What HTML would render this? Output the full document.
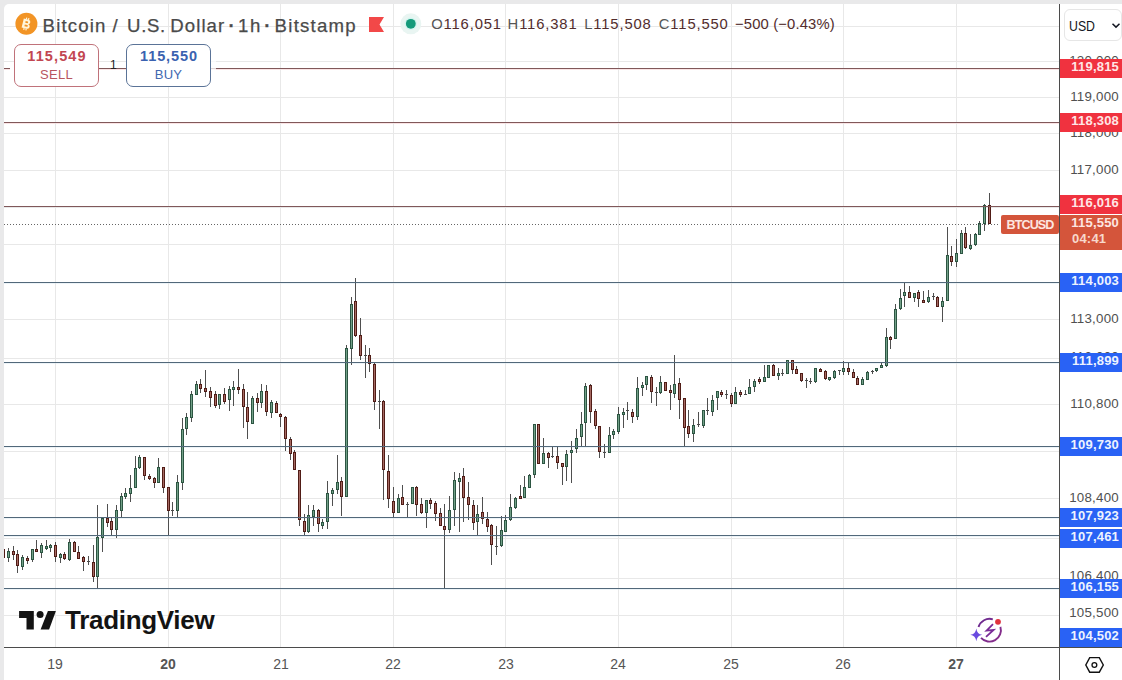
<!DOCTYPE html>
<html><head><meta charset="utf-8">
<style>
html,body{margin:0;padding:0;}
body{width:1122px;height:680px;overflow:hidden;background:#e9e9ea;position:relative;font-family:"Liberation Sans",sans-serif;}
#frame{position:absolute;left:4px;top:4px;width:1118px;height:676px;background:#fff;border-top-left-radius:5px;overflow:hidden;}
svg{position:absolute;left:0;top:0;}
.t{position:absolute;white-space:nowrap;}
.title{top:13.5px;font-size:18.6px;color:#4a4a4a;line-height:24px;-webkit-text-stroke:0.25px #4a4a4a;}
.ohlc{top:14.3px;font-size:14.8px;line-height:20px;color:#522c2c;letter-spacing:0.85px;}
.ohlc b{font-weight:normal;color:#555;}
.pl{position:absolute;left:1060px;width:62px;height:19px;color:#fff;font-weight:bold;font-size:13px;line-height:16.6px;text-align:right;box-sizing:border-box;padding-right:3px;letter-spacing:0.2px;}
.red{background:#f0323f;color:#ffe6e6;}
.blue{background:#2962f5;color:#eef3ff;}
.ax{position:absolute;left:1060px;width:59px;text-align:right;font-size:13.3px;color:#505050;line-height:16px;letter-spacing:0.25px;}
.wk{stroke:#4f4f4f;stroke-width:1;fill:none}
.cg{fill:#72a088;stroke:#2c5542;stroke-width:1}
.cr{fill:#a66a63;stroke:#501c16;stroke-width:1}
.cd{fill:#555;stroke:#444;stroke-width:1}
.cgs{fill:#3a6450}
.crs{fill:#6a2a22}
.cds{fill:#4a4a4a}
.lc{display:inline-block;transform:scaleY(1.12);transform-origin:0 24px;}
.day{position:absolute;top:655.5px;font-size:14px;color:#555;width:40px;margin-left:-20px;text-align:center;line-height:16px;}
</style></head><body>
<div id="frame"></div>
<svg width="1122" height="680" viewBox="0 0 1122 680" shape-rendering="crispEdges">
 <g id="grid" stroke="#e8e8e8" stroke-width="1">
  <path stroke="#fbe4e5" d="M4 69.5H1059M4 123.5H1059M4 207.5H1059"/>
  <path stroke="#edf4f8" d="M4 283.5H1059M4 363.5H1059M4 447.5H1059M4 518.5H1059M4 536.5H1059M4 589.5H1059"/>
  <path d="M55.5 4V647M168.5 4V647M280.5 4V647M393.5 4V647M505.5 4V647M618.5 4V647M731.5 4V647M843.5 4V647M956.5 4V647"/>
  <path d="M4 26.5H1059M4 61.5H1059M4 97.5H1059M4 133.5H1059M4 170.5H1059M4 207.5H1059M4 244.5H1059M4 282.5H1059M4 319.5H1059M4 358.5H1059M4 404.5H1059M4 451.5H1059M4 498.5H1059M4 538.5H1059M4 578.5H1059M4 615.5H1059"/>
 </g>
 <defs><clipPath id="clipc"><rect x="4" y="4" width="1055" height="643"/></clipPath></defs>
<g id="candles" clip-path="url(#clipc)" shape-rendering="crispEdges">
<path class="wk" d="M3.5 549V558M8.5 548V562M13.5 546V560M17.5 550V573M22.5 555V570M27.5 556V564M32.5 549V562M36.5 540V552M41.5 543V558M46.5 540V550M50.5 544V552M55.5 542V562M60.5 553V563M64.5 552V560M69.5 539V561M74.5 541V552M78.5 546V559M83.5 556V571M88.5 556V565M93.5 545V582M97.5 505V588M102.5 518V552M107.5 504V527M111.5 518V535M116.5 505V538M121.5 493V517M125.5 488V499M130.5 475V502M135.5 456V488M139.5 455V469M144.5 457V480M149.5 474V480M154.5 477V488M158.5 458V483M163.5 467V493M168.5 487V535M172.5 502V516M177.5 475V517M182.5 418V490M186.5 413V435M191.5 391V422M196.5 381V395M200.5 379V393M205.5 370V397M210.5 387V407M215.5 391V408M219.5 394V409M224.5 388V404M229.5 386V411M233.5 381V406M238.5 369V394M243.5 384V428M247.5 392V439M252.5 396V424M257.5 393V412M261.5 384V408M266.5 385V416M271.5 400V418M276.5 401V413M280.5 413V427M285.5 416V451M290.5 437V460M294.5 450V470M299.5 470V526M304.5 514V535M308.5 505V533M313.5 505V526M318.5 509V532M322.5 519V529M327.5 481V529M332.5 488V506M337.5 455V494M341.5 477V516M346.5 345V497M351.5 297V365M355.5 278V337M360.5 318V360M365.5 345V378M369.5 348V372M374.5 363V410M379.5 390V429M383.5 400V500M388.5 455V508M393.5 487V517M398.5 494V513M402.5 485V505M407.5 502V517M412.5 487V504M416.5 486V516M421.5 498V514M426.5 500V528M430.5 498V509M435.5 501V521M440.5 508V526M444.5 504V589M449.5 496V533M454.5 472V526M459.5 473V532M463.5 468V522M468.5 482V520M473.5 500V530M477.5 505V535M482.5 497V524M487.5 512V532M491.5 524V565M496.5 526V555M501.5 516V547M505.5 515V532M510.5 494V521M515.5 497V509M520.5 485V499M524.5 476V498M529.5 474V488M534.5 424V478M538.5 424V464M543.5 438V464M548.5 452V468M552.5 446V458M557.5 446V469M562.5 463V485M566.5 450V481M571.5 441V483M576.5 429V453M581.5 412V447M585.5 383V446M590.5 384V423M595.5 409V429M599.5 426V458M604.5 444V458M609.5 427V453M613.5 429V439M618.5 407V434M623.5 408V428M627.5 402V420M632.5 409V423M637.5 377V420M642.5 382V396M646.5 376V390M651.5 375V403M656.5 387V406M660.5 376V394M665.5 382V391M670.5 385V410M674.5 355V398M679.5 378V419M684.5 398V446M688.5 410V438M693.5 419V442M698.5 412V427M703.5 410V428M707.5 398V415M712.5 395V416M717.5 391V410M721.5 390V397M726.5 390V399M731.5 393V407M735.5 387V404M740.5 390V397M745.5 390V395M749.5 379V394M754.5 379V392M759.5 377V384M764.5 365V382M768.5 365V378M773.5 364V376M778.5 368V380M782.5 369V376M787.5 360V374M792.5 360V374M796.5 366V374M801.5 373V382M806.5 378V388M810.5 378V384M815.5 368V383M820.5 368V372M825.5 370V380M829.5 377V381M834.5 370V379M839.5 370V375M843.5 361V375M848.5 362V375M853.5 369V378M857.5 376V385M862.5 377V385M867.5 371V380M872.5 370V374M876.5 368V372M881.5 363V368M886.5 328V367M890.5 336V349M895.5 304V339M900.5 289V310M904.5 282V307M909.5 286V298M914.5 293V302M918.5 290V307M923.5 291V303M928.5 290V303M933.5 293V300M937.5 296V307M942.5 297V322M947.5 227V301M951.5 246V266M956.5 239V267M961.5 230V254M965.5 227V249M970.5 234V250M975.5 233V246M979.5 221V235M984.5 204V231M989.5 193V224"/>
<rect class="cr" x="2.5" y="549.5" width="2" height="8"/>
<rect class="cg" x="7.5" y="551.5" width="2" height="6"/>
<rect class="cr" x="12.5" y="551.5" width="2" height="3"/>
<rect class="cr" x="16.5" y="554.5" width="2" height="11"/>
<rect class="cg" x="21.5" y="557.5" width="2" height="9"/>
<rect class="cr" x="26.5" y="558.5" width="2" height="2"/>
<rect class="cg" x="31.5" y="549.5" width="2" height="10"/>
<rect class="cr" x="35.5" y="549.5" width="2" height="2"/>
<rect class="cg" x="40.5" y="545.5" width="2" height="7"/>
<rect class="cg" x="45.5" y="546.5" width="2" height="2"/>
<rect class="cg" x="49.5" y="545.5" width="2" height="2"/>
<rect class="cr" x="54.5" y="545.5" width="2" height="11"/>
<rect class="cg" x="59.5" y="554.5" width="2" height="3"/>
<rect class="cr" x="63.5" y="554.5" width="2" height="4"/>
<rect class="cg" x="68.5" y="542.5" width="2" height="17"/>
<rect class="cr" x="73.5" y="542.5" width="2" height="9"/>
<rect class="cr" x="77.5" y="552.5" width="2" height="6"/>
<rect class="cr" x="82.5" y="557.5" width="2" height="4"/>
<rect class="cds" x="87" y="561" width="3" height="1"/>
<rect class="cr" x="92.5" y="562.5" width="2" height="14"/>
<rect class="cg" x="96.5" y="537.5" width="2" height="39"/>
<rect class="cg" x="101.5" y="518.5" width="2" height="19"/>
<rect class="cr" x="106.5" y="518.5" width="2" height="4"/>
<rect class="cr" x="110.5" y="521.5" width="2" height="8"/>
<rect class="cg" x="115.5" y="510.5" width="2" height="19"/>
<rect class="cg" x="120.5" y="496.5" width="2" height="14"/>
<rect class="cg" x="124.5" y="493.5" width="2" height="3"/>
<rect class="cg" x="129.5" y="488.5" width="2" height="5"/>
<rect class="cg" x="134.5" y="468.5" width="2" height="19"/>
<rect class="cg" x="138.5" y="457.5" width="2" height="10"/>
<rect class="cr" x="143.5" y="457.5" width="2" height="18"/>
<rect class="cr" x="148.5" y="476.5" width="2" height="2"/>
<rect class="cr" x="153.5" y="478.5" width="2" height="4"/>
<rect class="cg" x="157.5" y="467.5" width="2" height="15"/>
<rect class="cr" x="162.5" y="467.5" width="2" height="20"/>
<rect class="cr" x="167.5" y="487.5" width="2" height="23"/>
<rect class="cds" x="171" y="510" width="3" height="1"/>
<rect class="cg" x="176.5" y="482.5" width="2" height="28"/>
<rect class="cg" x="181.5" y="429.5" width="2" height="53"/>
<rect class="cg" x="185.5" y="417.5" width="2" height="11"/>
<rect class="cg" x="190.5" y="394.5" width="2" height="23"/>
<rect class="cg" x="195.5" y="384.5" width="2" height="10"/>
<rect class="cr" x="199.5" y="384.5" width="2" height="4"/>
<rect class="cr" x="204.5" y="388.5" width="2" height="3"/>
<rect class="cr" x="209.5" y="391.5" width="2" height="6"/>
<rect class="cr" x="214.5" y="394.5" width="2" height="11"/>
<rect class="cg" x="218.5" y="394.5" width="2" height="10"/>
<rect class="cr" x="223.5" y="394.5" width="2" height="7"/>
<rect class="cg" x="228.5" y="389.5" width="2" height="10"/>
<rect class="cg" x="232.5" y="387.5" width="2" height="2"/>
<rect class="cr" x="237.5" y="387.5" width="2" height="2"/>
<rect class="cr" x="242.5" y="389.5" width="2" height="17"/>
<rect class="cr" x="246.5" y="407.5" width="2" height="14"/>
<rect class="cg" x="251.5" y="398.5" width="2" height="25"/>
<rect class="cr" x="256.5" y="398.5" width="2" height="4"/>
<rect class="cg" x="260.5" y="391.5" width="2" height="11"/>
<rect class="cr" x="265.5" y="391.5" width="2" height="20"/>
<rect class="cg" x="270.5" y="402.5" width="2" height="10"/>
<rect class="cr" x="275.5" y="403.5" width="2" height="9"/>
<rect class="cr" x="279.5" y="414.5" width="2" height="2"/>
<rect class="cr" x="284.5" y="417.5" width="2" height="21"/>
<rect class="cr" x="289.5" y="439.5" width="2" height="14"/>
<rect class="cr" x="293.5" y="452.5" width="2" height="17"/>
<rect class="cr" x="298.5" y="470.5" width="2" height="49"/>
<rect class="cr" x="303.5" y="521.5" width="2" height="10"/>
<rect class="cg" x="307.5" y="515.5" width="2" height="16"/>
<rect class="cg" x="312.5" y="510.5" width="2" height="6"/>
<rect class="cr" x="317.5" y="510.5" width="2" height="13"/>
<rect class="cg" x="321.5" y="522.5" width="2" height="3"/>
<rect class="cg" x="326.5" y="493.5" width="2" height="28"/>
<rect class="cg" x="331.5" y="490.5" width="2" height="3"/>
<rect class="cg" x="336.5" y="482.5" width="2" height="7"/>
<rect class="cr" x="340.5" y="481.5" width="2" height="15"/>
<rect class="cg" x="345.5" y="348.5" width="2" height="148"/>
<rect class="cg" x="350.5" y="304.5" width="2" height="44"/>
<rect class="cr" x="354.5" y="301.5" width="2" height="34"/>
<rect class="cr" x="359.5" y="335.5" width="2" height="20"/>
<rect class="cds" x="364" y="355" width="3" height="1"/>
<rect class="cr" x="368.5" y="355.5" width="2" height="8"/>
<rect class="cr" x="373.5" y="364.5" width="2" height="37"/>
<rect class="cds" x="378" y="401" width="3" height="1"/>
<rect class="cr" x="382.5" y="401.5" width="2" height="68"/>
<rect class="cr" x="387.5" y="471.5" width="2" height="27"/>
<rect class="cr" x="392.5" y="501.5" width="2" height="11"/>
<rect class="cg" x="397.5" y="498.5" width="2" height="14"/>
<rect class="cr" x="401.5" y="497.5" width="2" height="7"/>
<rect class="cds" x="406" y="504" width="3" height="1"/>
<rect class="cg" x="411.5" y="487.5" width="2" height="16"/>
<rect class="cr" x="415.5" y="487.5" width="2" height="17"/>
<rect class="cr" x="420.5" y="504.5" width="2" height="8"/>
<rect class="cg" x="425.5" y="500.5" width="2" height="12"/>
<rect class="cr" x="429.5" y="500.5" width="2" height="3"/>
<rect class="cr" x="434.5" y="503.5" width="2" height="10"/>
<rect class="cr" x="439.5" y="513.5" width="2" height="12"/>
<rect class="cr" x="443.5" y="526.5" width="2" height="3"/>
<rect class="cg" x="448.5" y="510.5" width="2" height="19"/>
<rect class="cg" x="453.5" y="480.5" width="2" height="29"/>
<rect class="cg" x="458.5" y="478.5" width="2" height="3"/>
<rect class="cr" x="462.5" y="476.5" width="2" height="21"/>
<rect class="cr" x="467.5" y="497.5" width="2" height="7"/>
<rect class="cr" x="472.5" y="505.5" width="2" height="17"/>
<rect class="cg" x="476.5" y="514.5" width="2" height="7"/>
<rect class="cr" x="481.5" y="512.5" width="2" height="6"/>
<rect class="cr" x="486.5" y="519.5" width="2" height="7"/>
<rect class="cr" x="490.5" y="525.5" width="2" height="19"/>
<rect class="cds" x="495" y="546" width="3" height="1"/>
<rect class="cg" x="500.5" y="530.5" width="2" height="15"/>
<rect class="cg" x="504.5" y="520.5" width="2" height="11"/>
<rect class="cg" x="509.5" y="507.5" width="2" height="12"/>
<rect class="cg" x="514.5" y="498.5" width="2" height="9"/>
<rect class="cr" x="519.5" y="496.5" width="2" height="2"/>
<rect class="cg" x="523.5" y="487.5" width="2" height="10"/>
<rect class="cg" x="528.5" y="475.5" width="2" height="12"/>
<rect class="cg" x="533.5" y="424.5" width="2" height="50"/>
<rect class="cr" x="537.5" y="424.5" width="2" height="39"/>
<rect class="cg" x="542.5" y="453.5" width="2" height="10"/>
<rect class="cr" x="547.5" y="453.5" width="2" height="4"/>
<rect class="cds" x="551" y="456" width="3" height="1"/>
<rect class="cr" x="556.5" y="456.5" width="2" height="6"/>
<rect class="cr" x="561.5" y="463.5" width="2" height="3"/>
<rect class="cg" x="565.5" y="454.5" width="2" height="12"/>
<rect class="cg" x="570.5" y="450.5" width="2" height="2"/>
<rect class="cg" x="575.5" y="438.5" width="2" height="10"/>
<rect class="cg" x="580.5" y="424.5" width="2" height="12"/>
<rect class="cg" x="584.5" y="386.5" width="2" height="36"/>
<rect class="cr" x="589.5" y="385.5" width="2" height="26"/>
<rect class="cr" x="594.5" y="411.5" width="2" height="14"/>
<rect class="cr" x="598.5" y="426.5" width="2" height="25"/>
<rect class="cds" x="603" y="452" width="3" height="1"/>
<rect class="cg" x="608.5" y="435.5" width="2" height="17"/>
<rect class="cg" x="612.5" y="431.5" width="2" height="3"/>
<rect class="cg" x="617.5" y="414.5" width="2" height="17"/>
<rect class="cg" x="622.5" y="412.5" width="2" height="2"/>
<rect class="cds" x="626" y="410" width="3" height="1"/>
<rect class="cr" x="631.5" y="412.5" width="2" height="4"/>
<rect class="cg" x="636.5" y="388.5" width="2" height="28"/>
<rect class="cg" x="641.5" y="385.5" width="2" height="2"/>
<rect class="cg" x="645.5" y="376.5" width="2" height="8"/>
<rect class="cr" x="650.5" y="377.5" width="2" height="14"/>
<rect class="cds" x="655" y="392" width="3" height="1"/>
<rect class="cg" x="659.5" y="382.5" width="2" height="10"/>
<rect class="cr" x="664.5" y="382.5" width="2" height="8"/>
<rect class="cr" x="669.5" y="390.5" width="2" height="2"/>
<rect class="cg" x="673.5" y="384.5" width="2" height="9"/>
<rect class="cr" x="678.5" y="383.5" width="2" height="16"/>
<rect class="cr" x="683.5" y="398.5" width="2" height="29"/>
<rect class="cr" x="687.5" y="426.5" width="2" height="7"/>
<rect class="cg" x="692.5" y="425.5" width="2" height="8"/>
<rect class="cds" x="697" y="424" width="3" height="1"/>
<rect class="cg" x="702.5" y="410.5" width="2" height="15"/>
<rect class="cds" x="706" y="410" width="3" height="1"/>
<rect class="cg" x="711.5" y="400.5" width="2" height="11"/>
<rect class="cg" x="716.5" y="391.5" width="2" height="6"/>
<rect class="cr" x="720.5" y="392.5" width="2" height="2"/>
<rect class="cds" x="725" y="394" width="3" height="1"/>
<rect class="cr" x="730.5" y="395.5" width="2" height="8"/>
<rect class="cg" x="734.5" y="392.5" width="2" height="11"/>
<rect class="cr" x="739.5" y="392.5" width="2" height="2"/>
<rect class="cds" x="744" y="394" width="3" height="1"/>
<rect class="cg" x="748.5" y="387.5" width="2" height="6"/>
<rect class="cg" x="753.5" y="381.5" width="2" height="5"/>
<rect class="cr" x="758.5" y="379.5" width="2" height="2"/>
<rect class="cg" x="763.5" y="377.5" width="2" height="4"/>
<rect class="cg" x="767.5" y="365.5" width="2" height="12"/>
<rect class="cr" x="772.5" y="365.5" width="2" height="10"/>
<rect class="cg" x="777.5" y="373.5" width="2" height="2"/>
<rect class="cds" x="781" y="373" width="3" height="1"/>
<rect class="cg" x="786.5" y="360.5" width="2" height="13"/>
<rect class="cr" x="791.5" y="360.5" width="2" height="9"/>
<rect class="cr" x="795.5" y="369.5" width="2" height="4"/>
<rect class="cr" x="800.5" y="373.5" width="2" height="7"/>
<rect class="cds" x="805" y="380" width="3" height="1"/>
<rect class="cds" x="809" y="381" width="3" height="1"/>
<rect class="cg" x="814.5" y="368.5" width="2" height="13"/>
<rect class="cr" x="819.5" y="369.5" width="2" height="2"/>
<rect class="cr" x="824.5" y="371.5" width="2" height="7"/>
<rect class="cg" x="828.5" y="377.5" width="2" height="2"/>
<rect class="cg" x="833.5" y="371.5" width="2" height="6"/>
<rect class="cds" x="838" y="370" width="3" height="1"/>
<rect class="cg" x="842.5" y="368.5" width="2" height="3"/>
<rect class="cr" x="847.5" y="368.5" width="2" height="3"/>
<rect class="cr" x="852.5" y="372.5" width="2" height="5"/>
<rect class="cr" x="856.5" y="378.5" width="2" height="6"/>
<rect class="cg" x="861.5" y="379.5" width="2" height="5"/>
<rect class="cg" x="866.5" y="372.5" width="2" height="7"/>
<rect class="cds" x="871" y="371" width="3" height="1"/>
<rect class="cg" x="875.5" y="368.5" width="2" height="2"/>
<rect class="cg" x="880.5" y="365.5" width="2" height="2"/>
<rect class="cg" x="885.5" y="337.5" width="2" height="28"/>
<rect class="cr" x="889.5" y="337.5" width="2" height="2"/>
<rect class="cg" x="894.5" y="309.5" width="2" height="29"/>
<rect class="cg" x="899.5" y="298.5" width="2" height="10"/>
<rect class="cg" x="903.5" y="292.5" width="2" height="3"/>
<rect class="cr" x="908.5" y="292.5" width="2" height="5"/>
<rect class="cg" x="913.5" y="293.5" width="2" height="4"/>
<rect class="cr" x="917.5" y="292.5" width="2" height="6"/>
<rect class="cr" x="922.5" y="300.5" width="2" height="2"/>
<rect class="cg" x="927.5" y="297.5" width="2" height="4"/>
<rect class="cds" x="932" y="296" width="3" height="1"/>
<rect class="cr" x="936.5" y="297.5" width="2" height="9"/>
<rect class="cg" x="941.5" y="301.5" width="2" height="5"/>
<rect class="cg" x="946.5" y="255.5" width="2" height="45"/>
<rect class="cr" x="950.5" y="256.5" width="2" height="5"/>
<rect class="cg" x="955.5" y="253.5" width="2" height="8"/>
<rect class="cg" x="960.5" y="233.5" width="2" height="20"/>
<rect class="cr" x="964.5" y="233.5" width="2" height="14"/>
<rect class="cg" x="969.5" y="245.5" width="2" height="3"/>
<rect class="cg" x="974.5" y="234.5" width="2" height="10"/>
<rect class="cg" x="978.5" y="223.5" width="2" height="11"/>
<rect class="cg" x="983.5" y="205.5" width="2" height="18"/>
<rect class="cr" x="988.5" y="205.5" width="2" height="18"/>
</g>
 <g id="hlines" stroke-width="1">
  <path stroke="#80585a" d="M4 68.5H1059M4 122.5H1059M4 206.5H1059"/>
  <path stroke="#52687a" d="M4 282.5H1059M4 362.5H1059M4 446.5H1059M4 517.5H1059M4 535.5H1059M4 588.5H1059"/>
 </g>

 <path stroke="#666" stroke-dasharray="1 2" d="M4 224.5H1000"/>
 <path stroke="#4b4b4b" d="M1059.5 4V680M4 647.5H1122"/>
</svg>

<!-- title -->
<svg width="1122" height="60" style="left:0;top:0">
 <circle cx="26.4" cy="23.8" r="11" fill="#f29425"/>
 <g transform="translate(26.2 23.9) rotate(14)" fill="#fff6dc">
  <path fill-rule="evenodd" d="M-3.6 -4.6H1.4Q3.6 -4.6 3.6 -2.4Q3.6 -0.7 2.2 -0.2Q4.1 0.3 4.1 2.3Q4.1 4.6 1.5 4.6H-3.6ZM-1.2 -2.6H1Q1.5 -2.6 1.5 -1.7Q1.5 -0.9 1 -0.9H-1.2ZM-1.2 0.8H1.3Q2 0.8 2 1.8Q2 2.7 1.3 2.7H-1.2Z"/>
  <path d="M-1.6 -6.3h1.2v1.8h-1.2zM0.6 -6.3h1.2v1.8h-1.2zM-1.6 4.5h1.2v1.8h-1.2zM0.6 4.5h1.2v1.8h-1.2z"/>
 </g>
 <path d="M369 17h15l-4.5 7.5l4.5 7.5h-15z" fill="#f24848"/>
 <circle cx="410.8" cy="23.8" r="10.5" fill="#e9f5f2"/>
 <circle cx="410.8" cy="23.8" r="6.2" fill="#d2f5ef"/>
 <circle cx="410.8" cy="23.8" r="4.9" fill="#149a7a"/>
</svg>
<div class="t title" style="left:42.6px;letter-spacing:1.15px">Bitcoin</div>
<div class="t title" style="left:112.5px;letter-spacing:0">/</div>
<div class="t title" style="left:127px;letter-spacing:0.7px">U.S.</div>
<div class="t title" style="left:170.2px;letter-spacing:1.1px">Dollar</div>
<div class="t title" style="left:228.5px;letter-spacing:0;font-weight:bold">·</div>
<div class="t title" style="left:238px;letter-spacing:1.7px">1h</div>
<div class="t title" style="left:264.2px;letter-spacing:0;font-weight:bold">·</div>
<div class="t title" style="left:274.6px;letter-spacing:1.25px">Bitstamp</div>
<div class="t ohlc" style="left:431.2px"><b>O</b>116,051</div>
<div class="t ohlc" style="left:507.6px"><b>H</b>116,381</div>
<div class="t ohlc" style="left:584.2px"><b>L</b>115,508</div>
<div class="t ohlc" style="left:658.8px"><b>C</b>115,550</div>
<div class="t ohlc" style="left:735px;letter-spacing:0.15px">−500 (−0.43%)</div>

<!-- sell/buy -->
<div class="t" style="left:9.6px;top:66px;width:4.5px;height:4px;background:#fff"></div>
<div class="t" style="left:211px;top:59px;width:5px;height:11px;background:rgba(255,255,255,0.75)"></div>
<div class="t" style="left:14px;top:44px;width:85px;height:43px;box-sizing:border-box;border:1px solid #c0727a;border-radius:7px;background:#fff;text-align:center;color:#c24651;">
 <div style="font-weight:bold;font-size:14.5px;line-height:16px;margin-top:3.2px;letter-spacing:1.1px;margin-left:1px">115,549</div>
 <div style="font-size:13px;line-height:16px;margin-top:2.5px;color:#b8555f;letter-spacing:0.3px">SELL</div>
</div>
<div class="t" style="left:110px;top:58px;font-size:12px;color:#222">1</div>
<div class="t" style="left:126px;top:44px;width:85px;height:43px;box-sizing:border-box;border:1px solid #5a7397;border-radius:7px;background:#fff;text-align:center;color:#3a62b0;">
 <div style="font-weight:bold;font-size:14.5px;line-height:16px;margin-top:3.2px;letter-spacing:0.9px;margin-left:1px">115,550</div>
 <div style="font-size:13px;line-height:16px;margin-top:2.5px;color:#4268b0;letter-spacing:0.3px">BUY</div>
</div>

<!-- price axis -->
<div class="t" style="left:1064px;top:9px;width:58px;height:31.5px;border:1px solid #e6e6e6;border-radius:6px;box-sizing:border-box"></div>
<div class="t" style="left:1069px;top:17px;font-size:15px;color:#131722;line-height:17px;transform:scaleX(0.82);transform-origin:0 0">USD</div>
<svg width="12" height="8" style="left:1111px;top:22px"><path d="M1.5 1.8l3.5 3.3l3.5-3.3" stroke="#131722" stroke-width="1.5" fill="none"/></svg>

<div class="ax" style="top:53px">120,000</div>
<div class="ax" style="top:89px">119,000</div>
<div class="ax" style="top:125px">118,000</div>
<div class="ax" style="top:162px">117,000</div>
<div class="ax" style="top:311px">113,000</div>
<div class="ax" style="top:348.5px">112,000</div>
<div class="ax" style="top:396px">110,800</div>
<div class="ax" style="top:490px">108,400</div>
<div class="ax" style="top:568px">106,400</div>
<div class="ax" style="top:605px">105,500</div>

<div class="pl red" style="top:59px">119,815</div>
<div class="pl red" style="top:113px">118,308</div>
<div class="pl red" style="top:195px">116,016</div>
<div class="pl" style="top:215px;height:34.5px;background:#d4553b;line-height:16px;padding-top:0.3px;color:#fde6e0">115,550<br><span style="display:inline-block;width:47px;text-align:left;color:#f8d8cc">04:41</span></div>
<div class="t" style="left:1001px;top:215px;width:58px;height:18.5px;background:#d4553b;border-radius:2px;color:#fde6e0;font-weight:bold;font-size:12.6px;line-height:20.5px;overflow:hidden;text-align:center;letter-spacing:-0.9px">BTCUSD</div>
<div class="pl blue" style="top:273px">114,003</div>
<div class="pl blue" style="top:353px">111,899</div>
<div class="pl blue" style="top:437px">109,730</div>
<div class="pl blue" style="top:508px">107,923</div>
<div class="pl blue" style="top:529px">107,461</div>
<div class="pl blue" style="top:579px">106,155</div>
<div class="pl blue" style="top:628px">104,502</div>

<!-- time axis -->
<div class="day" style="left:55px">19</div>
<div class="day" style="left:168px;font-weight:bold">20</div>
<div class="day" style="left:281px">21</div>
<div class="day" style="left:393px">22</div>
<div class="day" style="left:506px">23</div>
<div class="day" style="left:618px">24</div>
<div class="day" style="left:731px">25</div>
<div class="day" style="left:843px">26</div>
<div class="day" style="left:956px;font-weight:bold">27</div>

<!-- settings hexagon -->
<svg width="24" height="24" style="left:1083px;top:653px"><path d="M6.7 4.6H16.3L20.3 12L16.3 19.2H6.7L2.8 12Z" fill="none" stroke="#111" stroke-width="1.4" stroke-linejoin="miter"/><circle cx="11.4" cy="12" r="2.4" fill="none" stroke="#111" stroke-width="1.3"/></svg>
<!-- AI icon -->
<svg width="40" height="34" style="left:966px;top:612px" viewBox="966 612 40 34">
 <defs><linearGradient id="ag" x1="0" y1="0" x2="1" y2="1"><stop offset="0" stop-color="#6a2a90"/><stop offset="1" stop-color="#8a2e8a"/></linearGradient></defs>
 <path d="M978.54 627.1A11.4 11.4 0 0 1 992.83 619.35M1000.4 626.9A11.4 11.4 0 0 1 981.03 637.88" fill="none" stroke="url(#ag)" stroke-width="1.9"/>
 <path d="M993 624.2L986.6 630.6L993.6 629.9L986 636.8" fill="none" stroke="#7a2c98" stroke-width="1.8" stroke-linejoin="miter"/>
 <circle cx="998" cy="621.8" r="2.9" fill="#e0323c"/>
 <path d="M976.3 628.4Q977 634 982.2 634.8Q977 635.6 976.3 641.2Q975.6 635.6 970.3 634.8Q975.6 634 976.3 628.4Z" fill="#6a4be0"/>
</svg>

<!-- TradingView logo -->
<svg width="50" height="30" style="left:14px;top:604px"><path d="M5.1 7H19.8V25.4H12.5V13.9H5.1Z" fill="#131313"/><circle cx="26.1" cy="10.4" r="3.5" fill="#131313"/><path d="M33.9 7H41.9L35.1 25.4H26.6Z" fill="#131313"/></svg>
<div class="t" style="left:65px;top:605px;font-size:26px;font-weight:bold;color:#131313;letter-spacing:-0.3px">TradingView</div>
</body></html>
